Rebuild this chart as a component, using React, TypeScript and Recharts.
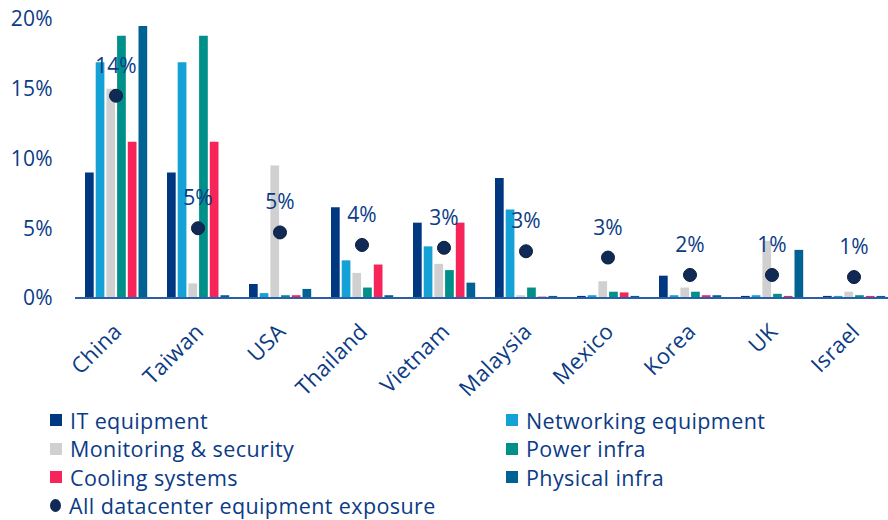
import { ComposedChart, Bar, Scatter, XAxis, YAxis } from "recharts";

const countries = ["China", "Taiwan", "USA", "Thailand", "Vietnam", "Malaysia", "Mexico", "Korea", "UK", "Israel"];
const itEquipment = [9.0, 9.0, 1.0, 6.5, 5.4, 8.6, 0.15, 1.6, 0.15, 0.15];
const networking = [16.9, 16.9, 0.35, 2.7, 3.7, 6.35, 0.2, 0.2, 0.2, 0.15];
const monitoring = [15.0, 1.05, 9.5, 1.8, 2.45, 0.2, 1.2, 0.75, 4.1, 0.45];
const powerInfra = [18.8, 18.8, 0.2, 0.75, 2.0, 0.75, 0.45, 0.45, 0.3, 0.2];
const cooling = [11.2, 11.2, 0.2, 2.4, 5.4, 0.1, 0.4, 0.2, 0.15, 0.15];
const physicalInfra = [19.5, 0.2, 0.65, 0.2, 1.1, 0.15, 0.15, 0.2, 3.45, 0.15];
const exposure = [14.5, 5.0, 4.7, 3.8, 3.6, 3.35, 2.9, 1.65, 1.65, 1.5];
const exposureLabels = ["14%", "5%", "5%", "4%", "3%", "3%", "3%", "2%", "1%", "1%"];
const yTicks = [0, 5, 10, 15, 20];

const TEXT = "#0b3b86";
const FONT = "'Open Sans', sans-serif";

const series = [
  { key: "it", name: "IT equipment", color: "#003781", values: itEquipment },
  { key: "net", name: "Networking equipment", color: "#14a1d6", values: networking },
  { key: "mon", name: "Monitoring & security", color: "#d0d0d0", values: monitoring },
  { key: "power", name: "Power infra", color: "#00908a", values: powerInfra },
  { key: "cool", name: "Cooling systems", color: "#f7245a", values: cooling },
  { key: "phys", name: "Physical infra", color: "#006193", values: physicalInfra },
];

const data = countries.map((c, i) => {
  const row: Record<string, any> = { country: c, exposure: exposure[i], label: exposureLabels[i] };
  series.forEach((s) => (row[s.key] = s.values[i]));
  return row;
});

function CountryTick(props: any) {
  const { x, y, payload } = props;
  const tx = x + 7;
  const ty = y + 27;
  return (
    <text
      x={tx}
      y={ty}
      transform={`rotate(-45, ${tx}, ${ty})`}
      textAnchor="end"
      fill={TEXT}
      fontSize={22}
      letterSpacing={0.3}
      fontFamily={FONT}
    >
      {payload.value}
    </text>
  );
}

function ExposureDot(props: any) {
  const { cx, cy, payload } = props;
  return (
    <g>
      <circle cx={cx} cy={cy} r={6.5} fill="#112a55" stroke="#0a1c3d" strokeWidth={1} />
      <text x={cx} y={cy - 23} textAnchor="middle" fill={TEXT} fontSize={21} fontFamily={FONT}>
        {payload.label}
      </text>
    </g>
  );
}

const legendItems = [
  ...series.map((s) => ({ name: s.name, color: s.color, dot: false })),
  { name: "All datacenter equipment exposure", color: "#112a55", dot: true },
];

export default function App() {
  return (
    <div style={{ position: "absolute", left: 0, top: 0, width: 888, height: 520, overflow: "hidden", background: "#fff" }}>
      <ComposedChart
        width={896}
        height={520}
        data={data}
        margin={{ top: 19, right: 1, bottom: 0, left: 0 }}
        barGap={2}
        barCategoryGap="12%"
      >
        <YAxis
          domain={[0, 20]}
          ticks={yTicks}
          tickFormatter={(v) => `${v}%`}
          axisLine={false}
          tickLine={false}
          tickSize={0}
          tickMargin={22}
          width={75}
          tick={{ fill: TEXT, fontSize: 21, fontFamily: FONT, letterSpacing: 0.3 }}
        />
        <XAxis
          dataKey="country"
          height={222}
          interval={0}
          tickLine={false}
          axisLine={{ stroke: "#2a5ea8", strokeWidth: 2 }}
          tick={<CountryTick />}
        />
        {series.map((s) => (
          <Bar key={s.key} dataKey={s.key} name={s.name} fill={s.color} barSize={8.7} isAnimationActive={false} />
        ))}
        <Scatter dataKey="exposure" name="All datacenter equipment exposure" shape={<ExposureDot />} isAnimationActive={false} />
      </ComposedChart>
      <div
        style={{
          position: "absolute",
          left: 50,
          top: 406,
          width: 830,
          display: "grid",
          gridTemplateColumns: "456px 370px",
          fontFamily: FONT,
          fontSize: 21.5,
          letterSpacing: 0.4,
          color: TEXT,
        }}
      >
        {legendItems.map((it) => (
          <div key={it.name} style={{ display: "flex", alignItems: "center", height: 28.5, whiteSpace: "nowrap" }}>
            <span
              style={{
                display: "inline-block",
                width: it.dot ? 11 : 12,
                height: it.dot ? 13 : 12,
                borderRadius: it.dot ? "50%" : 0,
                background: it.color,
                marginRight: 8,
                flex: "none",
              }}
            />
            {it.name}
          </div>
        ))}
      </div>
    </div>
  );
}
